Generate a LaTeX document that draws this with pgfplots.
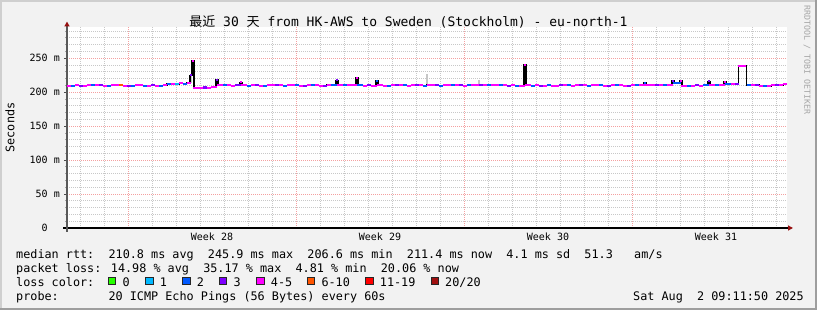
\documentclass[border=0pt]{standalone}
\usepackage{pgfplots}
\pgfplotsset{compat=1.18}
\usepackage{pgfplotstable}
\usepackage{fontspec}
\setmainfont{DejaVu Sans Mono}
\newfontfamily\cjk{Noto Sans CJK SC}
\usetikzlibrary{arrows.meta}

\definecolor{bgc}{RGB}{242,242,242}
\definecolor{shadea}{RGB}{207,207,207}
\definecolor{shadeb}{RGB}{158,158,158}
\definecolor{gridc}{RGB}{200,200,200}
\definecolor{mgridc}{RGB}{244,160,160}
\definecolor{arrowc}{RGB}{150,16,16}
\definecolor{l0}{HTML}{26FF00}
\definecolor{l1}{HTML}{00B8FF}
\definecolor{l2}{HTML}{0059FF}
\definecolor{l3}{HTML}{7E00FF}
\definecolor{l5}{HTML}{FF00FF}
\definecolor{l10}{HTML}{FF5500}
\definecolor{l19}{HTML}{FF0000}
\definecolor{l20}{HTML}{A01010}

\newcommand\legfont{\fontsize{11.8}{14}\selectfont}
\newcommand\tickfont{\fontsize{10}{12}\selectfont}

% median rtt (ms) over 30 days (x in 1/720 of the period), loss class
\pgfplotstableread{
x y c
2 209.5 m
6 209.8 b
10 210.3 m
14 209.6 p
18 209.4 m
22 210.0 m
26 210.8 b
30 211.0 m
34 210.4 p
38 209.8 m
42 209.5 b
46 209.9 m
50 210.3 m
54 210.0 o
58 209.6 m
62 209.4 p
66 209.8 b
70 210.4 m
74 210.2 m
78 209.7 b
82 209.6 m
86 210.1 p
90 209.7 m
94 209.3 b
98 209.9 m
102 212.3 b
106 212.6 m
110 212.2 c
114 212.8 m
118 212.5 b
122 213.5 m
124 225.0 P
126 245.9 M
128 206.8 m
130 206.8 m
134 206.6 m
138 206.9 p
142 206.7 m
146 207.0 m
148 207.0 m
150 218.0 P
152 210.2 m
154 210.2 m
158 209.9 b
162 210.4 m
166 209.8 m
170 210.1 p
172 210.1 p
174 214.8 M
176 210.0 m
178 210.0 m
182 209.6 b
186 209.9 m
190 210.3 p
194 209.8 m
198 209.5 b
202 209.9 m
206 210.4 m
210 210.6 p
214 210.1 m
218 209.7 b
222 209.9 m
226 210.5 m
230 210.2 b
234 209.8 m
238 209.6 p
242 210.0 m
246 210.4 b
250 209.9 m
254 209.5 m
258 209.8 p
262 210.6 m
266 211.2 b
268 211.2 b
270 217.5 P
272 210.8 m
274 210.8 m
278 210.4 b
282 210.2 m
286 210.0 m
288 210.0 m
290 221.5 M
292 210.3 b
294 210.3 b
298 209.8 m
302 210.1 p
306 209.6 m
308 209.6 m
310 216.5 B
312 210.0 m
314 210.0 m
318 209.5 m
322 209.8 b
326 210.3 m
330 210.7 p
334 210.2 m
338 209.9 b
342 209.6 m
346 210.1 m
350 210.4 p
354 210.0 m
358 209.7 b
362 210.5 m
366 210.9 m
370 210.2 p
374 209.8 b
378 210.4 m
382 211.0 m
386 210.6 b
390 210.1 m
394 210.3 p
398 209.8 m
402 210.2 b
406 210.7 m
410 211.1 m
414 210.6 p
418 210.3 m
422 209.9 b
426 210.5 m
430 210.8 m
434 210.4 b
438 210.0 m
442 209.7 p
446 210.2 m
450 209.6 b
454 209.3 m
456 209.3 m
458 240.0 M
460 210.1 m
462 210.1 m
466 209.6 b
470 209.9 m
474 209.4 p
478 209.7 m
482 210.2 b
486 209.8 m
490 209.5 m
494 209.9 p
498 210.3 m
502 210.0 b
506 209.6 m
510 209.9 m
514 210.4 p
518 210.1 m
522 209.7 b
526 210.0 m
530 210.5 m
534 210.2 b
538 209.8 m
542 209.5 p
546 209.9 m
550 210.3 b
554 210.0 m
558 209.6 m
562 209.8 p
566 210.4 m
570 210.6 b
574 210.3 m
576 210.3 m
578 213.7 B
580 210.5 m
582 210.5 m
586 210.6 m
590 210.4 p
594 210.7 m
598 210.5 b
602 211.3 m
604 211.3 m
606 216.5 P
608 213.0 b
610 213.0 b
612 213.0 b
614 217.0 M
616 209.4 m
618 209.4 m
622 209.8 b
626 209.6 m
630 210.2 p
634 209.7 m
638 210.3 b
640 210.3 b
642 215.8 P
644 211.0 m
646 211.0 m
650 210.6 b
654 211.2 m
656 211.2 m
658 215.6 M
660 211.4 b
662 211.4 b
666 211.8 m
670 212.3 p
673 239.0 m
677 238.5 m
682 210.4 b
686 211.0 m
690 210.6 p
694 209.5 m
698 208.8 b
702 209.2 m
706 210.4 m
710 210.8 p
714 210.5 m
718 211.4 m
}\rtt

% smoke (light grey spread above the median)
\pgfplotstableread{
x y
124 214
124 224
nan nan
270 211
270 219
nan nan
360 210.5
360 227
nan nan
412 210.3
412 218
}\smoke

\begin{document}
\begin{tikzpicture}[x=1pt,y=1pt]
\fill[bgc] (0,0) rectangle (817,310);
\fill[shadea] (0,0) rectangle (2,310);
\fill[shadea] (0,308) rectangle (817,310);
\fill[shadeb] (815,0) rectangle (817,310);
\fill[shadeb] (0,0) rectangle (817,2);

\begin{axis}[
  at={(67pt,82pt)}, anchor=south west,
  scale only axis, width=720pt, height=201pt,
  xmin=0, xmax=720, ymin=0, ymax=296,
  axis background/.style={fill=white},
  axis lines=left,
  x axis line style={draw=black, line width=1.2pt, shorten <=-4pt, shorten >=-6pt,
     -{Triangle[width=5pt,length=5pt,color=arrowc]}},
  y axis line style={draw=black!65, line width=1.2pt, shorten <=-4pt, shorten >=-5.5pt,
     -{Triangle[width=5pt,length=5pt,color=arrowc]}},
  xtick={61,229,397,565}, xticklabels={},
  minor xtick={13,37,85,109,133,157,181,205,253,277,301,325,349,373,421,445,469,493,517,541,589,613,637,661,685,709},
  ytick={0,50,100,150,200,250},
  yticklabels={0\phantom{~m},50 m,100 m,150 m,200 m,250 m},
  minor ytick={10,20,30,40,60,70,80,90,110,120,130,140,160,170,180,190,210,220,230,240,260,270,280,290},
  grid=both,
  major grid style={draw=mgridc, line width=1pt, dash pattern=on 1pt off 1pt},
  minor grid style={draw=gridc, line width=1pt, dash pattern=on 1pt off 1pt},
  tick align=outside,
  major tick length=3pt, minor tick length=2pt,
  xtick style={draw=none}, minor x tick style={draw=none},
  ytick style={draw=black!70, line width=0.8pt},
  minor y tick style={draw=gray!70, line width=0.8pt},
  extra x ticks={145,313,481,649},
  extra x tick labels={Week 28,Week 29,Week 30,Week 31},
  extra x tick style={grid=none, major tick length=0pt},
  tick label style={font=\tickfont},
  xticklabel style={anchor=base, inner sep=0pt, yshift=-12.7pt},
  yticklabel style={anchor=east, inner sep=0pt, xshift=-4pt},
  clip=true,
]
\addplot[draw=gray!45, line width=1.2pt, mark=none, unbounded coords=jump, forget plot]
  table[x=x, y=y] {\smoke};
\addplot[black, line width=1.2pt, const plot mark mid, mark=none] table[x=x, y=y] {\rtt};
\addplot[scatter, only marks, scatter src=explicit symbolic, mark=-, mark size=2pt,
  scatter/classes={
    m={draw=l5, line width=2pt},
    b={draw=l2, line width=2pt},
    p={draw=l3, line width=2pt},
    c={draw=l1, line width=2pt},
    o={draw=l10, line width=2pt},
    M={draw=l5, line width=2pt, mark size=1pt},
    P={draw=l3, line width=2pt, mark size=1pt},
    B={draw=l2, line width=2pt, mark size=1pt}}]
  table[x=x, y=y, meta=c] {\rtt};
\end{axis}

% title
\node[anchor=base, inner sep=0pt, font=\fontsize{13}{15}\selectfont] at (408.5,283.5)
  {{\cjk 最近} 30 {\cjk 天} from HK-AWS to Sweden (Stockholm) - eu-north-1};
% y label
\node[rotate=90, inner sep=0pt, font=\legfont] at (10,182.5) {Seconds};
% watermark
\node[rotate=-90, inner sep=0pt, text=black!35, font=\fontsize{8.3}{10}\selectfont] at (807,250) {RRDTOOL / TOBI OETIKER};

% legend text
\node[anchor=base west, inner sep=0pt, font=\legfont] at (16,51.5)
  {median rtt:~~210.8 ms avg~~245.9 ms max~~206.6 ms min~~211.4 ms now~~4.1 ms sd~~51.3~~~am/s};
\node[anchor=base west, inner sep=0pt, font=\legfont] at (16,37.5)
  {packet loss: 14.98 \% avg~~35.17 \% max~~4.81 \% min~~20.06 \% now};
\node[anchor=base west, inner sep=0pt, font=\legfont] at (16,23.5) {loss color:};
\node[anchor=base west, inner sep=0pt, font=\legfont] at (16,9.5)
  {probe:~~~~~~~20 ICMP Echo Pings (56 Bytes) every 60s};
\node[anchor=base west, inner sep=0pt, font=\legfont] at (633,9.5) {Sat Aug~~2 09:11:50 2025};

% loss colour swatches
\foreach \sx/\col/\lab in {108.3/l0/{0}, 145.7/l1/{1}, 182.7/l2/{2}, 219.3/l3/{3}, 256.7/l5/{4-5}, 307.3/l10/{6-10}, 365.7/l19/{11-19}, 431/l20/{20/20}}{
  \draw[fill=\col, draw=black!85, line width=0.8pt] (\sx,25.4) rectangle ++(7.4,7.4);
  \node[anchor=base west, inner sep=0pt, font=\legfont] at (\sx+14,23.5) {\lab};
}

\pgfresetboundingbox
\useasboundingbox (0,0) rectangle (817,310);
\end{tikzpicture}
\end{document}
